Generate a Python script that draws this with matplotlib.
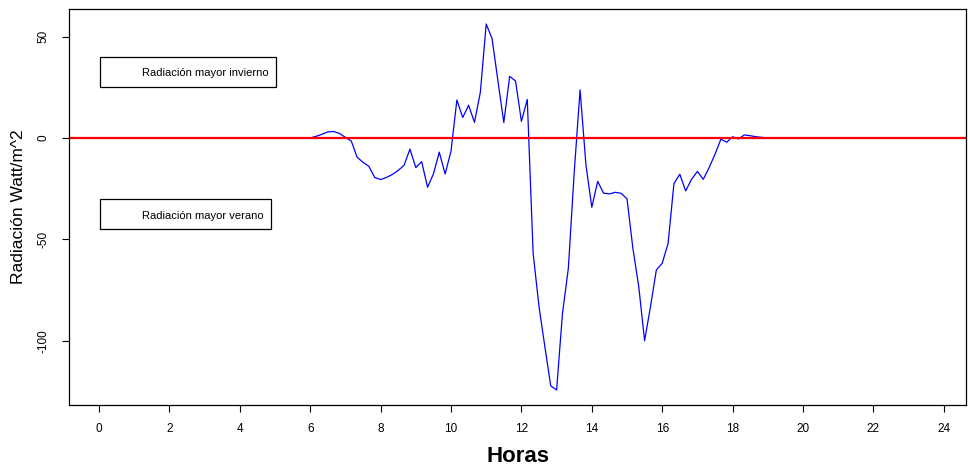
import matplotlib
matplotlib.use("Agg")
import matplotlib.pyplot as plt
from matplotlib.patches import Rectangle

plt.rcParams['font.family'] = ['Liberation Sans', 'DejaVu Sans']

# Hours (10-minute steps from 6:00 to 19:00)
start_hour = 6.0
step_hours = 1.0 / 6.0
diff_values = [
    0.0, 0.8, 1.8, 3.0, 3.2, 2.2, 0.3, -1.5, -9.5, -12.0,
    -14.0, -19.5, -20.5, -19.5, -18.0, -16.0, -13.5, -5.5, -14.6, -11.7,
    -24.3, -17.8, -7.0, -17.8, -6.5, 18.7, 10.1, 16.1, 7.7, 22.5,
    56.2, 49.0, 28.1, 7.6, 30.4, 28.1, 8.2, 19.0, -56.9, -83.2,
    -103.0, -122.3, -124.3, -86.5, -64.3, -17.0, 23.7, -13.3, -34.2, -21.4,
    -27.2, -27.6, -26.8, -27.3, -30.0, -54.4, -73.3, -100.0, -83.2, -65.1,
    -61.8, -52.0, -22.5, -17.9, -26.1, -20.4, -16.5, -20.4, -14.6, -8.0,
    -0.6, -2.1, 0.6, -0.5, 1.5, 1.1, 0.6, 0.3, 0.0,
]
hours = [start_hour + i * step_hours for i in range(len(diff_values))]

x_ticks = list(range(0, 25, 2))
y_ticks = [50, 0, -50, -100]
legend_labels = ["Radiación mayor invierno", "Radiación mayor verano"]

fig = plt.figure(figsize=(9.68, 4.66), dpi=100)
ax = fig.add_axes([69/968, 1-405/466, (966-69)/968, (405-9)/466])

ax.plot(hours, diff_values, color='#0000ff', lw=0.9)
ax.axhline(0, color='#ff0000', lw=1.6)

ax.set_xlim(-0.852, 24.63)
ax.set_ylim(-131.7, 63.6)

ax.set_xticks(x_ticks)
ax.set_xticklabels([str(t) for t in x_ticks], fontsize=8.5)
ax.set_yticks(y_ticks)
ax.set_yticklabels([str(t) for t in y_ticks], fontsize=8.5, rotation=90, va='center')
ax.tick_params(axis='both', direction='out', length=5, width=0.8)
ax.tick_params(axis='x', pad=8)
ax.tick_params(axis='y', pad=9)
for s in ax.spines.values():
    s.set_linewidth(0.9)

ax.set_xlabel("Horas", fontsize=16, fontweight='bold', labelpad=8)
ax.set_ylabel("Radiación Watt/m^2", fontsize=12.5, labelpad=8)

# Legend-like boxes
boxes = [(0.03, 25.0, 4.99, 14.8), (0.03, -44.9, 4.85, 14.8)]
text_y = [31.9, -38.5]
for (bx, by, bw, bh), ty, lab in zip(boxes, text_y, legend_labels):
    ax.add_patch(Rectangle((bx, by), bw, bh, fill=False, edgecolor='black', lw=0.9))
    ax.text(1.22, ty, lab, fontsize=8, ha='left', va='center')

fig.savefig("out.png", dpi=100)
